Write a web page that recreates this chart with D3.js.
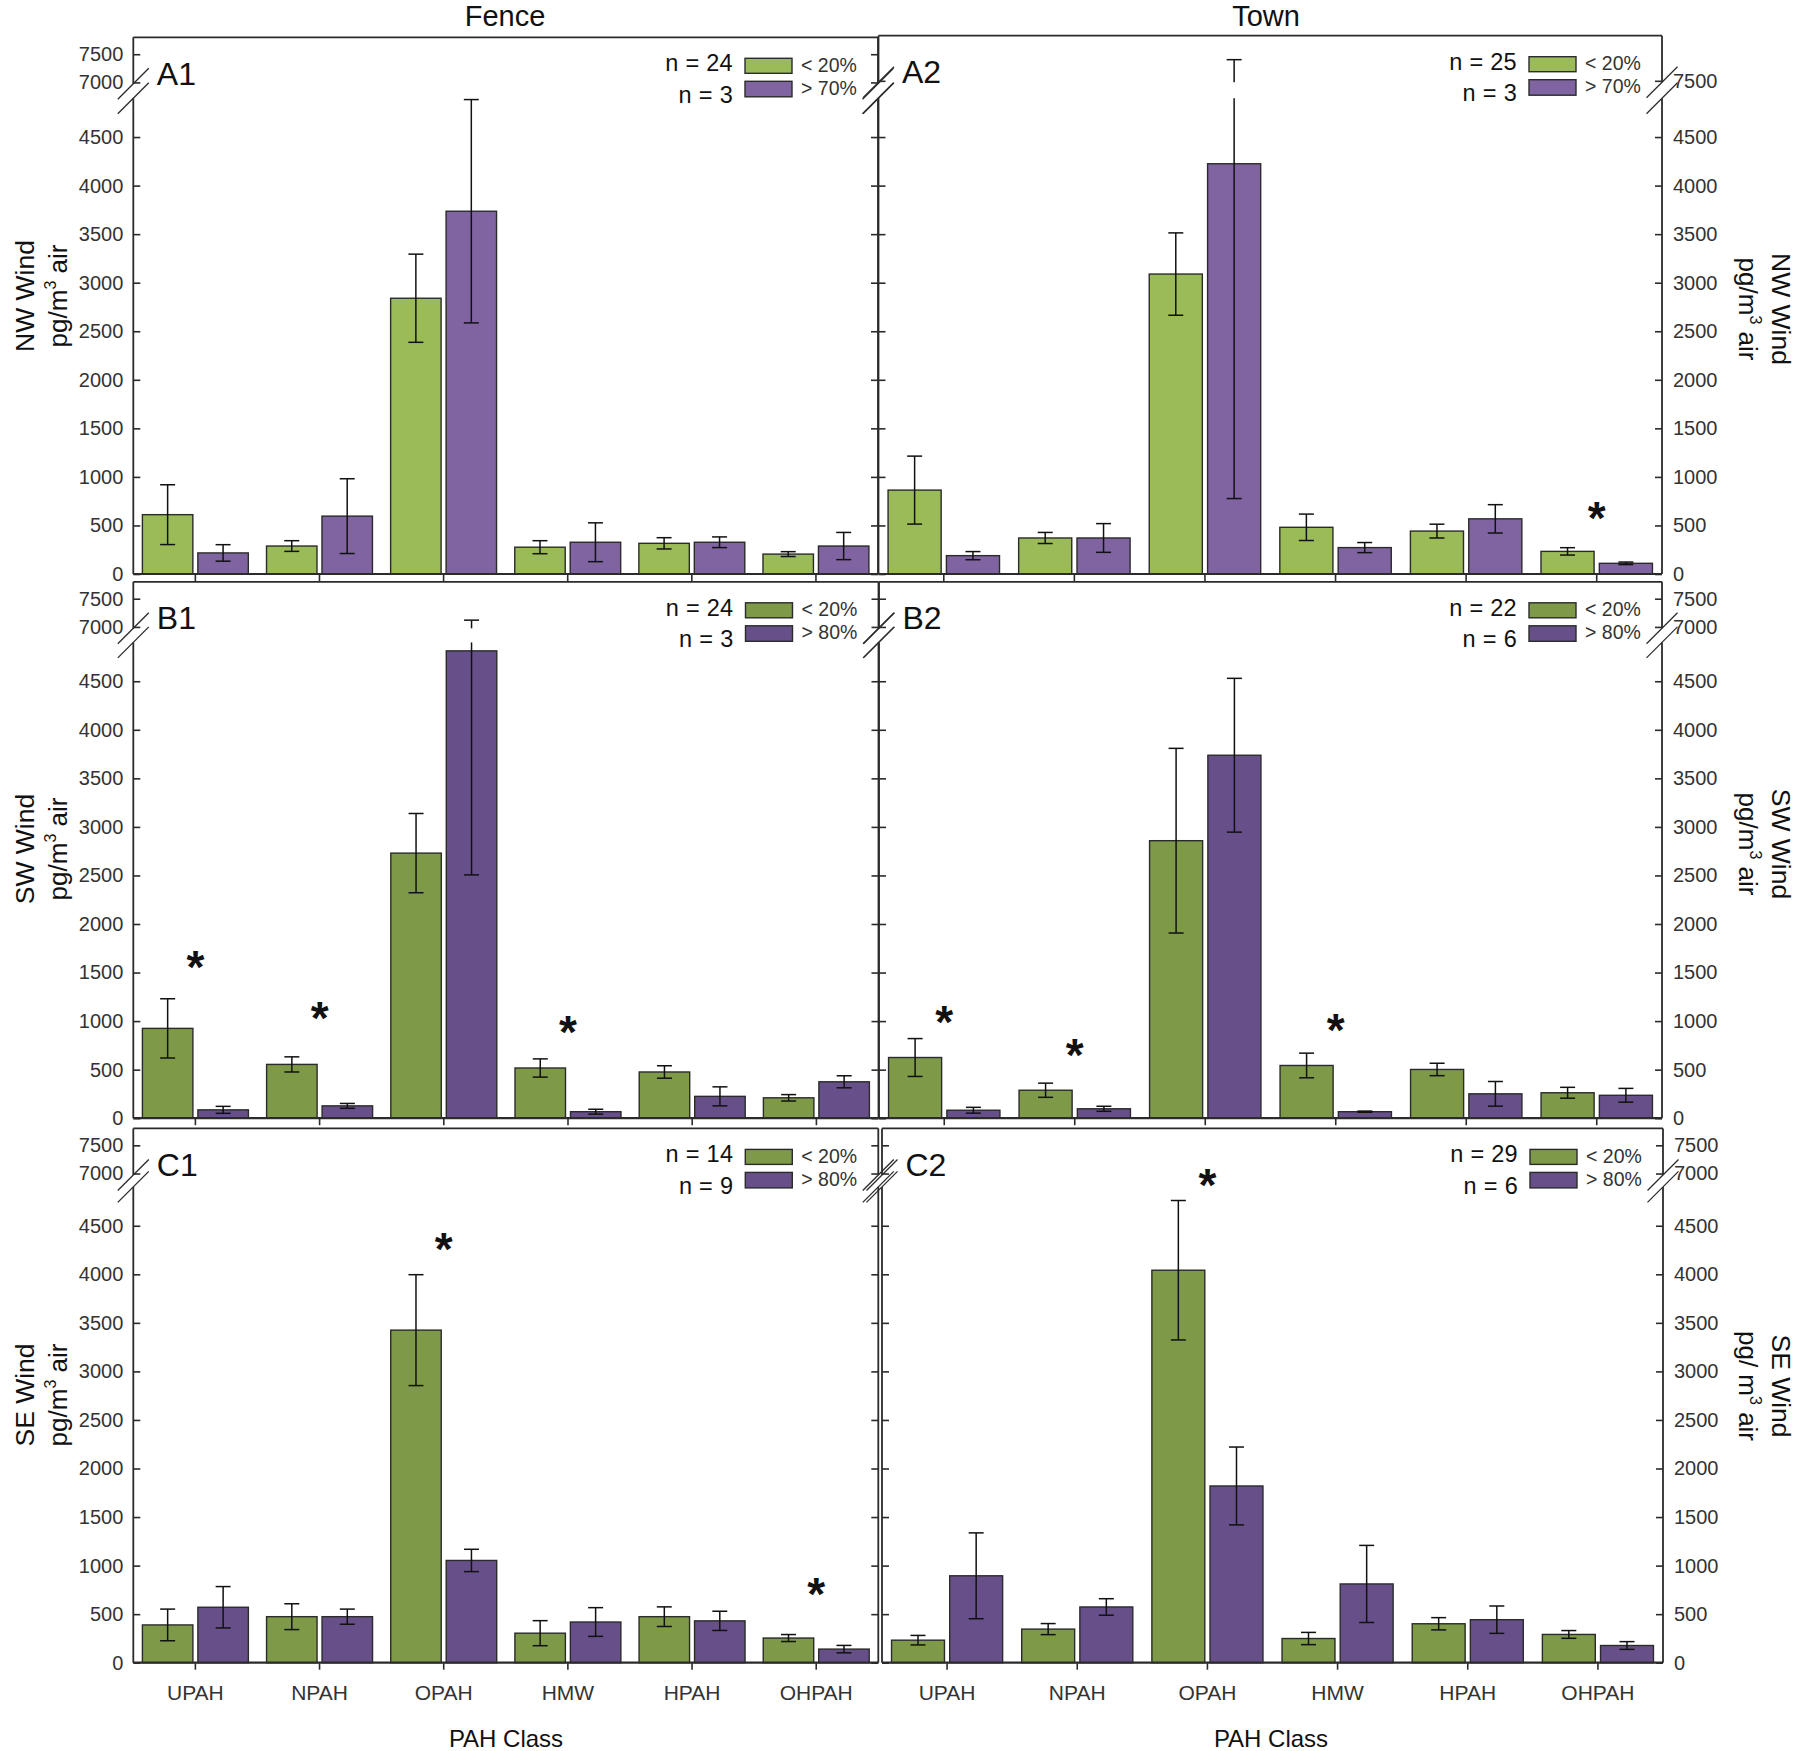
<!DOCTYPE html>
<html><head><meta charset="utf-8">
<script src="https://cdn.jsdelivr.net/npm/d3@7"></script>
<style>
body{margin:0;background:#fff}
svg{display:block}
text{font-family:"Liberation Sans",Arial,Helvetica,sans-serif}
</style>
</head><body>
<svg id="chart" width="1800" height="1751"></svg>
<script>
// ---------- data ----------
const categories = ["UPAH","NPAH","OPAH","HMW","HPAH","OHPAH"];
const lowLabel = "< 20%";
const highLabels = ["> 70%","> 70%","> 80%","> 80%","> 80%","> 80%"];
const nLow  = [24, 25, 24, 22, 14, 29];
const nHigh = [3, 3, 3, 6, 9, 6];
const panelNames = ["A1","A2","B1","B2","C1","C2"];
const columnTitles = ["Fence","Town"];
const rowTitles = ["NW Wind","SW Wind","SE Wind"];
const lowerTicks = [0,500,1000,1500,2000,2500,3000,3500,4000,4500];
const upperTicks = [7000,7500];
const a2RightUpperTicks = [7500];

const a1Low = [611, 288, 2840, 276, 316, 205];
const a1LowErr = [308, 55, 454, 67, 58, 25];
const a1High = [217, 596, 3736, 327, 327, 288];
const a1HighErr = [85, 385, 1150, 200, 55, 140];
const a1Stars = [null, null, null, null, null, null];

const a2Low = [864, 371, 3089, 481, 442, 233];
const a2LowErr = [350, 57, 424, 136, 71, 38];
const a2High = [189, 371, 4225, 272, 568, 110];
const a2HighErr = [42, 148, 3448, 52, 146, 13];
const a2HighErrUp = [42, 148, 3650, 52, 146, 13];
const a2Stars = [null, null, null, null, null, 611];

const b1Low = [925, 554, 2730, 517, 476, 210];
const b1LowErr = [305, 78, 408, 94, 64, 33];
const b1High = [86, 127, 4813, 67, 225, 375];
const b1HighErr = [36, 25, 2307, 25, 98, 62];
const b1Stars = [1592, 1067, null, 918, null, null];

const b2Low = [625, 288, 2858, 543, 502, 262];
const b2LowErr = [195, 73, 951, 127, 64, 56];
const b2High = [82, 97, 3738, 67, 251, 236];
const b2HighErr = [30, 26, 792, 6, 127, 71];
const b2Stars = [1022, 678, null, 940, null, null];

const c1Low = [389, 474, 3425, 304, 474, 254];
const c1LowErr = [163, 133, 571, 129, 101, 36];
const c1High = [571, 474, 1053, 419, 431, 140];
const c1HighErr = [213, 78, 115, 148, 99, 38];
const c1Stars = [null, null, 4288, null, null, 736];

const c2Low = [232, 346, 4042, 249, 401, 291];
const c2LowErr = [49, 57, 718, 63, 63, 40];
const c2High = [895, 574, 1820, 811, 443, 177];
const c2HighErr = [442, 85, 401, 397, 141, 40];
const c2Stars = [null, null, 4955, null, null, null];

// ---------- layout ----------
const rowTop = [37.3, 581.8, 1128.4];
const rowBottom = [574, 1118.2, 1662.7];
const colSpans = [[[133.3, 878],[878.5, 1662]], [[133.3, 878.5],[879, 1662]], [[133.3, 878.3],[882, 1663]]];
const rowColors = [["#9BBB59","#8064A2"],["#7E9A48","#67508A"],["#7E9A48","#67508A"]];
const K = 0.0971;      // px per unit, lower segment
const KU = 0.0564;     // px per unit, upper segment
const LOWMAX = 4900;
const INK = "#2b2b2b";

const panels = [
  {low:a1Low, lowErr:a1LowErr, high:a1High, highErr:a1HighErr, highErrUp:a1HighErr, stars:a1Stars, up:[6975,7800], rTicks:upperTicks},
  {low:a2Low, lowErr:a2LowErr, high:a2High, highErr:a2HighErr, highErrUp:a2HighErrUp, stars:a2Stars, up:[7475,8300], rTicks:a2RightUpperTicks, topAdj:-1.6},
  {low:b1Low, lowErr:b1LowErr, high:b1High, highErr:b1HighErr, highErrUp:b1HighErr, stars:b1Stars, up:[6975,7800], rTicks:upperTicks},
  {low:b2Low, lowErr:b2LowErr, high:b2High, highErr:b2HighErr, highErrUp:b2HighErr, stars:b2Stars, up:[6975,7800], rTicks:upperTicks},
  {low:c1Low, lowErr:c1LowErr, high:c1High, highErr:c1HighErr, highErrUp:c1HighErr, stars:c1Stars, up:[6975,7800], rTicks:upperTicks},
  {low:c2Low, lowErr:c2LowErr, high:c2High, highErr:c2HighErr, highErrUp:c2HighErr, stars:c2Stars, up:[6975,7800], rTicks:upperTicks}
];

const svg = d3.select("#chart");
svg.append("rect").attr("width",1800).attr("height",1751).attr("fill","#fff");

function styleAxis(g, size){
  g.select(".domain").remove();
  g.selectAll(".tick line").attr("stroke", INK).attr("stroke-width", 1.6);
  g.selectAll(".tick text").attr("fill", "#333").attr("font-size", size)
    .attr("font-family", '"Liberation Sans",Arial,sans-serif');
}

panels.forEach((p, i) => {
  const row = Math.floor(i / 2), col = i % 2;
  const [L, R] = colSpans[row][col];
  const T = rowTop[row] + (p.topAdj || 0), B = rowBottom[row];
  const [cLow, cHigh] = rowColors[row];
  const g = svg.append("g");

  const x = d3.scaleBand().domain(categories).range([L, R]).padding(0);
  const bw = x.bandwidth();
  const xs = d3.scaleBand().domain(["low","high"]).range([bw*0.0733, bw*0.9267]).paddingInner(0.09);
  const lower = d3.scaleLinear().domain([0, LOWMAX]).range([B, B - LOWMAX*K]);
  const upper = d3.scaleLinear().domain(p.up).range([T + (p.up[1]-p.up[0])*KU, T]);
  const y = v => (v > LOWMAX && v >= p.up[0]) ? upper(v) : lower(v);
  const lowTopY = lower(LOWMAX), upBotY = upper(p.up[0]);

  // bars
  const series = [
    {key:"low", vals:p.low, dn:p.lowErr, up:p.lowErr, color:cLow},
    {key:"high", vals:p.high, dn:p.highErr, up:p.highErrUp, color:cHigh}
  ];
  series.forEach(s => {
    g.selectAll(null).data(categories).enter().append("rect")
      .attr("x", (c) => x(c) + xs(s.key))
      .attr("y", (c, j) => y(s.vals[j]))
      .attr("width", xs.bandwidth())
      .attr("height", (c, j) => B - y(s.vals[j]))
      .attr("fill", s.color).attr("stroke", INK).attr("stroke-width", 1.4);
  });
  // error bars
  series.forEach(s => {
    categories.forEach((c, j) => {
      const cx = x(c) + xs(s.key) + xs.bandwidth()/2;
      const lo = s.vals[j] - s.dn[j], hi = s.vals[j] + s.up[j];
      const eg = g.append("g").attr("stroke", "#111").attr("stroke-width", 1.5);
      if (hi > LOWMAX) {
        eg.append("line").attr("x1",cx).attr("x2",cx).attr("y1",y(lo)).attr("y2",lowTopY);
        eg.append("line").attr("x1",cx).attr("x2",cx).attr("y1",upBotY).attr("y2",y(hi));
      } else {
        eg.append("line").attr("x1",cx).attr("x2",cx).attr("y1",y(lo)).attr("y2",y(hi));
      }
      [lo, hi].forEach(v => eg.append("line").attr("x1",cx-7.5).attr("x2",cx+7.5).attr("y1",y(v)).attr("y2",y(v)));
    });
  });
  // significance stars
  categories.forEach((c, j) => {
    const v = p.stars[j];
    if (v == null) return;
    g.append("text").attr("x", x(c) + bw/2).attr("y", y(v) + 19)
      .attr("text-anchor","middle").attr("font-size",46).attr("font-weight","bold").attr("fill","#111").text("*");
  });

  // frame
  const fr = g.append("g").attr("stroke", INK).attr("stroke-width", 1.8).attr("fill","none");
  fr.append("line").attr("x1",L).attr("x2",R).attr("y1",T).attr("y2",T);
  fr.append("line").attr("x1",L).attr("x2",R).attr("y1",B).attr("y2",B).attr("stroke-width",2.2);
  [L, R].forEach(ax => {
    fr.append("line").attr("x1",ax).attr("x2",ax).attr("y1",T).attr("y2",upBotY);
    fr.append("line").attr("x1",ax).attr("x2",ax).attr("y1",lowTopY).attr("y2",B);
    [upBotY, lowTopY].forEach(cy => fr.append("line").attr("stroke-width",1.3)
      .attr("x1",ax-15.5).attr("y1",cy+15.5).attr("x2",ax+15.5).attr("y2",cy-15.5));
  });

  // y ticks
  const fmt = d3.format("d");
  if (col === 0) {
    g.append("g").attr("transform",`translate(${L},0)`)
      .call(d3.axisLeft(lower).tickValues(lowerTicks).tickSize(-7).tickPadding(10).tickFormat(fmt)).call(a=>styleAxis(a,20));
    g.append("g").attr("transform",`translate(${L},0)`)
      .call(d3.axisLeft(upper).tickValues(upperTicks).tickSize(-7).tickPadding(10).tickFormat(fmt)).call(a=>styleAxis(a,20));
    g.append("g").attr("transform",`translate(${R},0)`)
      .call(d3.axisRight(lower).tickValues(lowerTicks).tickSize(-7).tickFormat("")).call(a=>styleAxis(a,20));
    g.append("g").attr("transform",`translate(${R},0)`)
      .call(d3.axisRight(upper).tickValues(upperTicks).tickSize(-7).tickFormat("")).call(a=>styleAxis(a,20));
  } else {
    g.append("g").attr("transform",`translate(${R},0)`)
      .call(d3.axisRight(lower).tickValues(lowerTicks).tickSize(-7).tickPadding(11).tickFormat(fmt)).call(a=>styleAxis(a,20));
    g.append("g").attr("transform",`translate(${R},0)`)
      .call(d3.axisRight(upper).tickValues(p.rTicks).tickSize(-7).tickPadding(11).tickFormat(fmt)).call(a=>styleAxis(a,20));
    g.append("g").attr("transform",`translate(${L},0)`)
      .call(d3.axisLeft(lower).tickValues(lowerTicks).tickSize(-7).tickFormat("")).call(a=>styleAxis(a,20));
    g.append("g").attr("transform",`translate(${L},0)`)
      .call(d3.axisLeft(upper).tickValues(p.rTicks).tickSize(-7).tickFormat("")).call(a=>styleAxis(a,20));
  }
  // x ticks
  const xa = g.append("g").attr("transform",`translate(0,${B})`)
    .call(d3.axisBottom(x).tickSize(7).tickPadding(15).tickFormat(row === 2 ? (d => d) : ""));
  styleAxis(xa, 21);

  // panel label
  g.append("text").attr("x", L + 23.5).attr("y", T + 47.5).attr("font-size", 32).attr("fill","#111").text(panelNames[i]);

  // legend
  const lg = g.append("g");
  [[nLow[i], 34], [nHigh[i], 65.5]].forEach(([n, dy]) =>
    lg.append("text").attr("x", R - 145).attr("y", T + dy).attr("text-anchor","end")
      .attr("font-size",23.5).attr("letter-spacing",0.3).attr("fill","#111").text("n = " + n));
  lg.append("rect").attr("x", R - 133).attr("y", T + 21).attr("width", 47).attr("height", 15).attr("fill", cLow).attr("stroke", INK).attr("stroke-width",1.4);
  lg.append("rect").attr("x", R - 133).attr("y", T + 44).attr("width", 47).attr("height", 15.5).attr("fill", cHigh).attr("stroke", INK).attr("stroke-width",1.4);
  lg.append("text").attr("x", R - 77).attr("y", T + 34.5).attr("font-size",19.5).attr("fill","#333").text(lowLabel);
  lg.append("text").attr("x", R - 77).attr("y", T + 57.5).attr("font-size",19.5).attr("fill","#333").text(highLabels[i]);
});

// column titles
[[505, 26, columnTitles[0]], [1266, 26, columnTitles[1]]].forEach(([cx, by, t]) =>
  svg.append("text").attr("x", cx).attr("y", by).attr("text-anchor","middle").attr("font-size",29).attr("fill","#111").text(t));

// x axis titles
[[506, 1747], [1271, 1747]].forEach(([cx, by]) =>
  svg.append("text").attr("x", cx).attr("y", by).attr("text-anchor","middle").attr("font-size",24).attr("fill","#111").text("PAH Class"));

// y axis titles
function unitText(sel, spaced){
  sel.append("tspan").text(spaced ? "pg/ m" : "pg/m");
  sel.append("tspan").attr("dy", -11).attr("font-size", 16).text("3");
  sel.append("tspan").attr("dy", 11).text("\u00A0air");
}
const leftCenters = [296, 849, 1395];
const rightCenters = [309, 844, 1386];
rowTitles.forEach((t, r) => {
  const gl = svg.append("g").attr("transform", `translate(34,${leftCenters[r]}) rotate(-90)`);
  gl.append("text").attr("text-anchor","middle").attr("font-size",26.5).attr("fill","#111").text(t);
  gl.append("text").attr("y", 33).attr("text-anchor","middle").attr("font-size",26).attr("fill","#111").call(s => unitText(s, false));
  const gr = svg.append("g").attr("transform", `translate(1772,${rightCenters[r]}) rotate(90)`);
  gr.append("text").attr("text-anchor","middle").attr("font-size",26.5).attr("fill","#111").text(t);
  gr.append("text").attr("y", 33).attr("text-anchor","middle").attr("font-size",26).attr("fill","#111").call(s => unitText(s, r === 2));
});
</script>
</body></html>
